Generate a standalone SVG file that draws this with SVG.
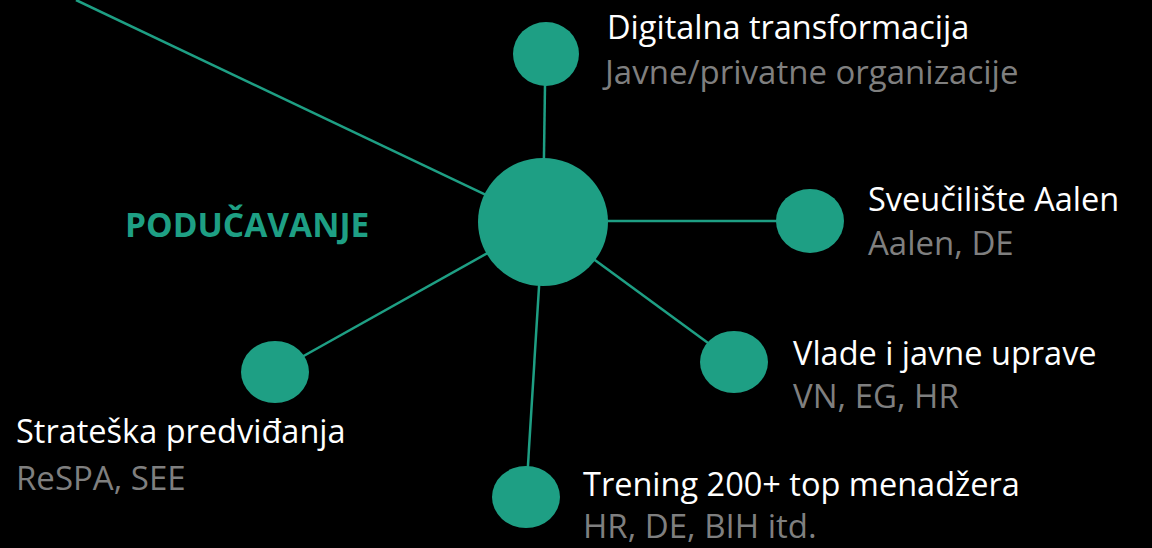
<svg xmlns="http://www.w3.org/2000/svg" width="1152" height="548" viewBox="0 0 1152 548">
<style>
.bg{fill:#000}
.node{fill:#1E9F84}
.edge{stroke:#1E9F84;stroke-width:2.5;fill:none}
.t{font-family:"Open Sans","Noto Sans",sans-serif;font-size:32.5px;fill:#FFFFFF}
.s{font-family:"Open Sans","Noto Sans",sans-serif;font-size:33px;fill:#7F7F7F}
.h{font-family:"Open Sans","Noto Sans",sans-serif;font-size:33.5px;font-weight:bold;fill:#1E9F84}
</style>
<rect class="bg" x="0" y="0" width="1152" height="548"/>
<g id="connectors">
<line class="edge" x1="76" y1="0" x2="543" y2="222"/>
<line class="edge" x1="545" y1="85" x2="543" y2="222"/>
<line class="edge" x1="543" y1="221" x2="778" y2="221"/>
<line class="edge" x1="543" y1="222" x2="734" y2="362"/>
<line class="edge" x1="543" y1="222" x2="526" y2="497"/>
<line class="edge" x1="543" y1="222" x2="275" y2="372"/>
</g>
<g id="center">
<ellipse class="node" cx="543" cy="222" rx="65" ry="64"/>
<text class="h" x="125" y="237">PODUČAVANJE</text>
</g>
<g id="digitalna">
<ellipse class="node" cx="546" cy="54" rx="33" ry="32"/>
<text class="t" x="607" y="39">Digitalna transformacija</text>
<text class="s" x="605" y="84">Javne/privatne organizacije</text>
</g>
<g id="aalen">
<ellipse class="node" cx="810" cy="221" rx="34" ry="32"/>
<text class="t" x="868" y="211">Sveučilište Aalen</text>
<text class="s" x="868" y="255">Aalen, DE</text>
</g>
<g id="vlade">
<ellipse class="node" cx="734" cy="362" rx="34" ry="31"/>
<text class="t" x="793" y="365">Vlade i javne uprave</text>
<text class="s" x="793" y="408">VN, EG, HR</text>
</g>
<g id="trening">
<ellipse class="node" cx="526" cy="497" rx="34" ry="31"/>
<text class="t" x="583" y="496">Trening 200+ top menadžera</text>
<text class="s" x="583" y="538">HR, DE, BIH itd.</text>
</g>
<g id="strateska">
<ellipse class="node" cx="275" cy="372" rx="34" ry="31"/>
<text class="t" x="16" y="443">Strateška predviđanja</text>
<text class="s" x="16" y="490">ReSPA, SEE</text>
</g>
</svg>
